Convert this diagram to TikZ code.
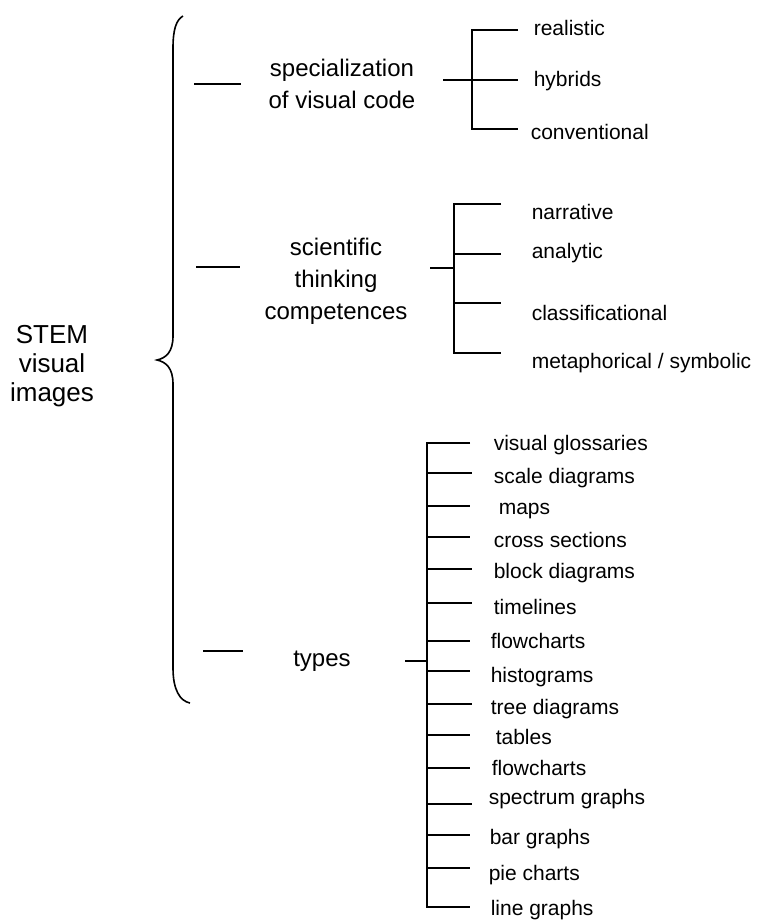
\documentclass[tikz,border=0pt]{standalone}
\usepackage{fontspec}
\setmainfont{Liberation Sans}
\tikzset{
	leaf/.style={anchor=west, inner sep=0pt, text height=8.2pt, text depth=0pt, font=\fontsize{15.75}{19}\selectfont},
	group/.style={align=center, inner sep=0pt, font=\fontsize{18}{24}\selectfont},
	root/.style={align=center, inner sep=0pt, font=\fontsize{19.5}{21.5}\selectfont}
}
\begin{document}
\begin{tikzpicture}[x=0.75pt, y=-0.75pt, line width=1.2pt]
	\useasboundingbox (0,0) rectangle (757,922);
	% root and brace
	\node[root] (R) at (52,366) {STEM\\visual\\images};
	\draw (183,16) .. controls (176,20) and (173,30) .. (173,48) -- (173,336) .. controls (173,352) and (166,358) .. (157,360) .. controls (166,362) and (173,368) .. (173,384) -- (173,668) .. controls (173,690) and (180,701) .. (190,703);
	% groups
	\node[group] (G1) at (342,84) {specialization\\of visual code};
	\node[group] (G2) at (336,281) {scientific\\thinking\\competences};
	\node[group] (G3) at (322,661) {types};
	\node[shape=coordinate] at (194,84) (D1) {};
	\node[shape=coordinate] at (241,84) (E1) {};
	\node[shape=coordinate] at (196,267) (D2) {};
	\node[shape=coordinate] at (240,267) (E2) {};
	\node[shape=coordinate] at (203,651) (D3) {};
	\node[shape=coordinate] at (243,651) (E3) {};
	\draw (D1) -- (E1);
	\draw (D2) -- (E2);
	\draw (D3) -- (E3);
	% specialization of visual code
	\node[shape=coordinate] at (443,80) (P1) {};
	\node[shape=coordinate] at (472,80) (J1) {};
	\node[leaf] at (533,30) (A1) {realistic};
	\node[leaf] at (533,81) (A2) {hybrids};
	\node[leaf] at (530,134) (A3) {conventional};
	\node[shape=coordinate] at (518,30) (a1) {};
	\node[shape=coordinate] at (518,80) (a2) {};
	\node[shape=coordinate] at (518,129) (a3) {};
	\draw (P1) -- (J1);
	\draw (a1) -- (J1 |- a1) -- (J1 |- a3) -- (a3);
	\draw (J1) -- (a2);
	% scientific thinking competences
	\node[shape=coordinate] at (430,268) (P2) {};
	\node[shape=coordinate] at (454,268) (J2) {};
	\node[leaf] at (531,214) (N1) {narrative};
	\node[leaf] at (531,253) (N2) {analytic};
	\node[leaf] at (531,315) (N3) {classificational};
	\node[leaf] at (531,363) (N4) {metaphorical / symbolic};
	\node[shape=coordinate] at (501,204) (n1) {};
	\node[shape=coordinate] at (501,254) (n2) {};
	\node[shape=coordinate] at (501,303) (n3) {};
	\node[shape=coordinate] at (501,353) (n4) {};
	\draw (P2) -- (J2);
	\draw (n1) -- (J2 |- n1) -- (J2 |- n4) -- (n4);
	\draw (J2 |- n2) -- (n2);
	\draw (J2 |- n3) -- (n3);
	% types
	\node[shape=coordinate] at (405,661) (P3) {};
	\node[shape=coordinate] at (427,661) (J3) {};
	\node[leaf] at (493,445) (T1) {visual glossaries};
	\node[leaf] at (493,478) (T2) {scale diagrams};
	\node[leaf] at (498,509) (T3) {maps};
	\node[leaf] at (493,542) (T4) {cross sections};
	\node[leaf] at (493,573) (T5) {block diagrams};
	\node[leaf] at (493,609) (T6) {timelines};
	\node[leaf] at (490,643) (T7) {flowcharts};
	\node[leaf] at (490,677) (T8) {histograms};
	\node[leaf] at (490,709) (T9) {tree diagrams};
	\node[leaf] at (495,739) (T10) {tables};
	\node[leaf] at (491,770) (T11) {flowcharts};
	\node[leaf] at (488,799) (T12) {spectrum graphs};
	\node[leaf] at (489,839) (T13) {bar graphs};
	\node[leaf] at (488,875) (T14) {pie charts};
	\node[leaf] at (490,910) (T15) {line graphs};
	\node[shape=coordinate] at (470,443) (t1) {};
	\node[shape=coordinate] at (472,473) (t2) {};
	\node[shape=coordinate] at (470,506) (t3) {};
	\node[shape=coordinate] at (470,537) (t4) {};
	\node[shape=coordinate] at (472,569) (t5) {};
	\node[shape=coordinate] at (472,603) (t6) {};
	\node[shape=coordinate] at (470,641) (t7) {};
	\node[shape=coordinate] at (470,671) (t8) {};
	\node[shape=coordinate] at (472,704) (t9) {};
	\node[shape=coordinate] at (470,735) (t10) {};
	\node[shape=coordinate] at (470,768) (t11) {};
	\node[shape=coordinate] at (472,804) (t12) {};
	\node[shape=coordinate] at (470,835) (t13) {};
	\node[shape=coordinate] at (470,868) (t14) {};
	\node[shape=coordinate] at (470,907) (t15) {};
	\draw (P3) -- (J3);
	\draw (t1) -- (J3 |- t1) -- (J3 |- t15) -- (t15);
	\draw (J3 |- t2) -- (t2);
	\draw (J3 |- t3) -- (t3);
	\draw (J3 |- t4) -- (t4);
	\draw (J3 |- t5) -- (t5);
	\draw (J3 |- t6) -- (t6);
	\draw (J3 |- t7) -- (t7);
	\draw (J3 |- t8) -- (t8);
	\draw (J3 |- t9) -- (t9);
	\draw (J3 |- t10) -- (t10);
	\draw (J3 |- t11) -- (t11);
	\draw (J3 |- t12) -- (t12);
	\draw (J3 |- t13) -- (t13);
	\draw (J3 |- t14) -- (t14);
\end{tikzpicture}
\end{document}
